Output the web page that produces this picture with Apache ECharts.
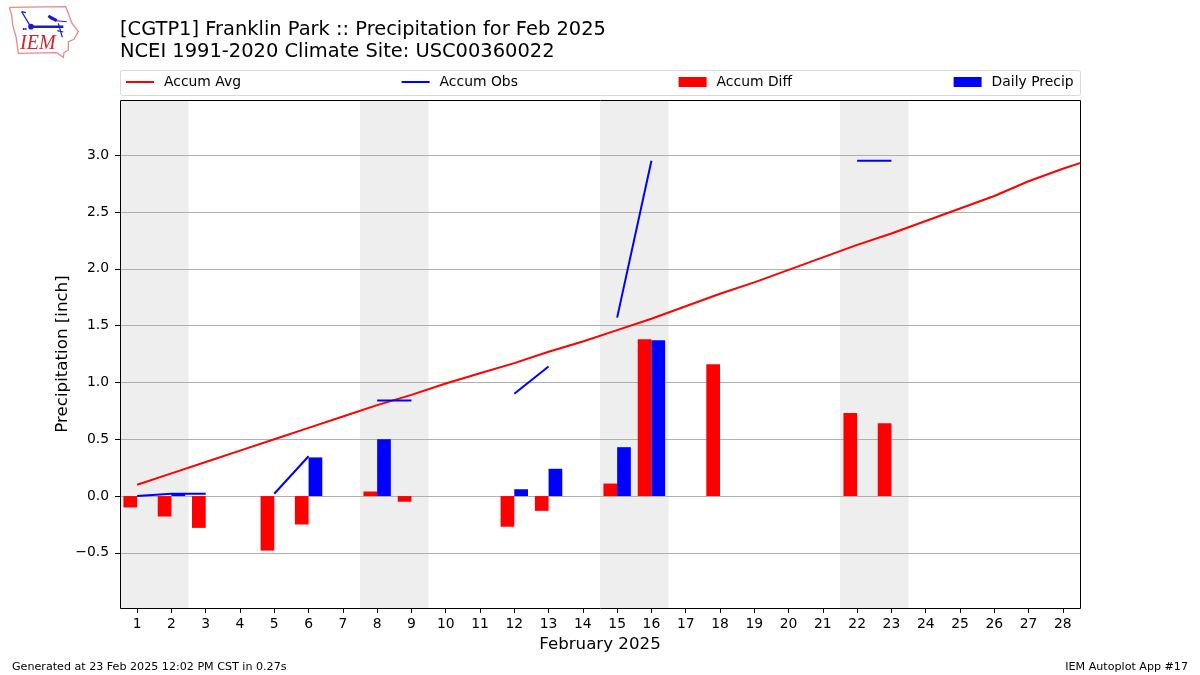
<!DOCTYPE html>
<html>
<head>
<meta charset="utf-8">
<style>html,body{margin:0;padding:0;background:#fff}#c{width:1200px;height:675px}</style>
<script src="https://cdn.jsdelivr.net/npm/echarts@6/dist/echarts.min.js"></script>
</head>
<body>
<div id="c"></div>
<script>
const days = [1,2,3,4,5,6,7,8,9,10,11,12,13,14,15,16,17,18,19,20,21,22,23,24,25,26,27,28,29];
const accumAvg = [0.10,0.20,0.30,0.40,0.50,0.60,0.70,0.80,0.89,0.99,1.08,1.17,1.27,1.36,1.46,1.56,1.67,1.78,1.88,1.99,2.10,2.21,2.31,2.42,2.53,2.64,2.77,2.88,2.98];
const accumObs = [0.00,0.02,0.02,null,0.02,0.35,null,0.84,0.84,null,null,0.90,1.14,null,1.57,2.95,null,null,null,null,null,2.95,2.95,null,null,null,null,null,null];
const accumDiff = [-0.10,-0.18,-0.28,null,-0.48,-0.25,null,0.04,-0.05,null,null,-0.27,-0.13,null,0.11,1.38,null,1.16,null,null,null,0.73,0.64,null,null,null,null,null,null];
const dailyPrecip = [null,0.02,null,null,null,0.34,null,0.50,null,null,null,0.06,0.24,null,0.43,1.37,null,null,null,null,null,null,null,null,null,null,null,null,null];
const weekendSpans = [[0.5,2.5],[7.5,9.5],[14.5,16.5],[21.5,23.5]];
const xTicks = days.slice(0,28);
const yTicks = [-0.5,0,0.5,1,1.5,2,2.5,3];
const titleLines = "[CGTP1] Franklin Park :: Precipitation for Feb 2025\nNCEI 1991-2020 Climate Site: USC00360022";
const FONT = '"DejaVu Sans"';
const pair = v => v.map((y,i)=>[days[i],y]);
const nonNull = v => pair(v).filter(p=>p[1]!==null);
const lg = (name,left,line) => ({
  show:true, data:[{name, icon:'rect'}], left, top:74, orient:'horizontal',
  itemWidth:28, itemHeight:line?2:10, itemGap:0, padding:[0,0,0,0],
  selectedMode:false, textStyle:{fontFamily:FONT,fontSize:13.9,color:'#000',padding:[0,0,0,5],lineHeight:16}
});
const s = 1/3;
const outline = [[28,22],[197,20],[205,40],[215,68],[235,95],[222,118],[205,125],[205,150],[192,158],[190,172],[170,158],[55,160],[48,110],[38,75],[35,45],[28,22]].map(p=>[p[0]*s,p[1]*s]);
const blueLine = (pts,w)=>({type:'polyline',shape:{points:pts.map(p=>[p[0]*s,p[1]*s])},style:{stroke:'#1a1ad0',lineWidth:w,fill:null}});

const chart = echarts.init(document.getElementById('c'),null,{renderer:'canvas'});
chart.setOption({
  animation:false,
  backgroundColor:'#fff',
  textStyle:{fontFamily:FONT},
  title:{show:true,text:titleLines,left:120,top:19,padding:0,textStyle:{fontFamily:FONT,fontSize:19.44,fontWeight:'normal',color:'#000',lineHeight:22}},
  legend:[lg('Accum Avg',126,true),lg('Accum Obs',401.6,true),lg('Accum Diff',678.6,false),lg('Daily Precip',953.6,false)],
  grid:{left:120,right:120,top:100,bottom:67,containLabel:false,show:false},
  xAxis:{
    type:'value',min:0.5,max:28.5,
    name:'February 2025',nameLocation:'middle',nameGap:28,nameMoveOverlap:false,
    nameTextStyle:{fontFamily:FONT,fontSize:16.67,color:'#000'},
    axisLine:{show:false,onZero:false},
    axisTick:{show:true,length:5,lineStyle:{color:'#000',width:1},customValues:xTicks},
    axisLabel:{color:'#000',fontFamily:FONT,fontSize:13.9,margin:9,customValues:xTicks,showMinLabel:true,showMaxLabel:true},
    splitLine:{show:false}
  },
  yAxis:{
    type:'value',min:-0.985,max:3.485,
    name:'Precipitation [inch]',nameLocation:'middle',nameGap:49,nameMoveOverlap:false,
    nameTextStyle:{fontFamily:FONT,fontSize:16.67,color:'#000'},
    axisLine:{show:false,onZero:false},
    axisTick:{show:true,length:5,lineStyle:{color:'#000',width:1},customValues:yTicks},
    axisLabel:{color:'#000',fontFamily:FONT,fontSize:13.9,margin:11,customValues:yTicks,
      formatter:v=>v.toFixed(1).replace('-','\u2212')},
    splitLine:{show:true,lineStyle:{color:'#b0b0b0',width:1}}
  },
  series:[
    {name:'Shade',type:'line',data:[],silent:true,symbol:'none',z:-1,
     markArea:{silent:true,z:-1,itemStyle:{color:'#eeeeee',opacity:1},label:{show:false},
       data:weekendSpans.map(sp=>[{xAxis:sp[0]},{xAxis:sp[1]}])}},
    {name:'Accum Diff',type:'bar',data:nonNull(accumDiff),barWidth:13.7,barGap:'0%',itemStyle:{color:'#ff0000'},z:2},
    {name:'Daily Precip',type:'bar',data:nonNull(dailyPrecip),barWidth:13.7,barGap:'0%',itemStyle:{color:'#0000ff'},z:2},
    {name:'Accum Avg',type:'line',data:pair(accumAvg),symbol:'none',showSymbol:false,lineStyle:{color:'#ff0000',width:2},itemStyle:{color:'#ff0000'},clip:true,z:3},
    {name:'Accum Obs',type:'line',data:pair(accumObs),symbol:'none',showSymbol:false,connectNulls:false,lineStyle:{color:'#0000ff',width:2},itemStyle:{color:'#0000ff'},clip:true,z:3}
  ],
  graphic:[
    {type:'rect',shape:{x:120.5,y:70.5,width:960,height:25,r:2},style:{fill:'#fff',stroke:'#d8d8d8',lineWidth:1},z:-5},
    {type:'rect',shape:{x:120.5,y:100.5,width:960,height:508},style:{fill:null,stroke:'#000',lineWidth:1},z:10},
    {type:'polyline',shape:{points:outline},style:{stroke:'#e58a8a',lineWidth:1.3,fill:null}},
    blueLine([[92,80],[190,80]],2.5),
    blueLine([[65,35],[92,80]],1.2),
    blueLine([[65,35],[78,38]],1.2),
    blueLine([[145,48],[170,62],[150,52]],3),
    blueLine([[165,62],[200,65]],1),
    blueLine([[175,70],[187,112]],1.2),
    blueLine([[172,92],[190,96]],1.2),
    {type:'circle',shape:{cx:93*s,cy:80*s,r:2.8},style:{fill:'#1a1ad0'}},
    {type:'circle',shape:{cx:71*s,cy:87*s,r:1},style:{fill:'#1a1ad0'}},
    {type:'circle',shape:{cx:77*s,cy:87*s,r:1},style:{fill:'#1a1ad0'}},
    {type:'text',left:20,top:34,style:{text:'IEM',font:'italic 20px "Liberation Serif"',fill:'#d8222a'}},
    {type:'text',left:12,top:661.6,style:{text:'Generated at 23 Feb 2025 12:02 PM CST in 0.27s',font:'11.11px "DejaVu Sans"',fill:'#000'}},
    {type:'text',right:12,top:661.6,style:{text:'IEM Autoplot App #17',font:'11.11px "DejaVu Sans"',fill:'#000'}}
  ]
});
</script>
</body>
</html>
